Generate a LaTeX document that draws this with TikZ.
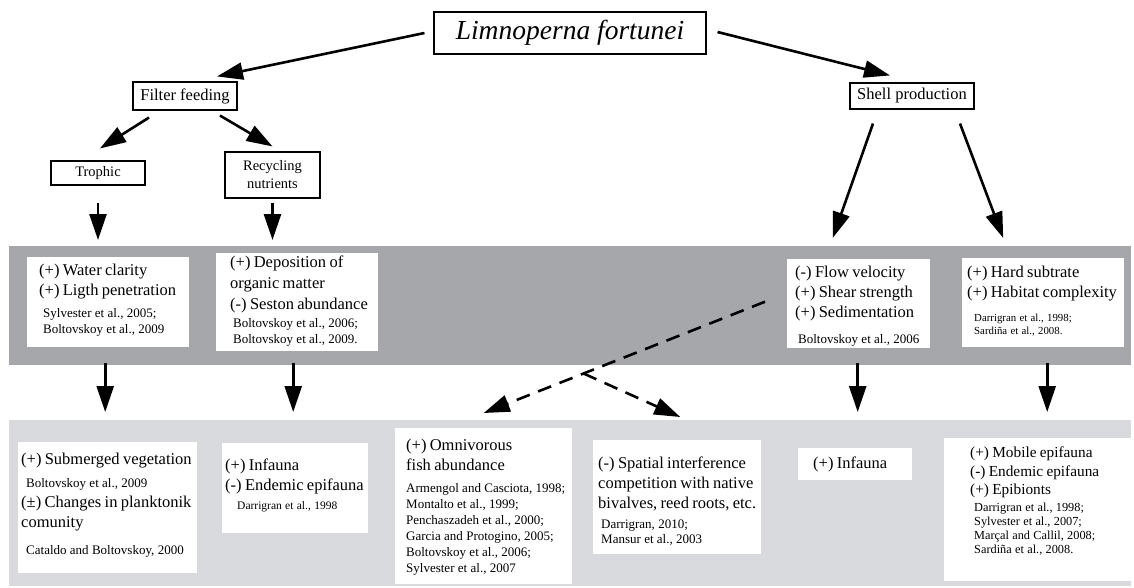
\documentclass[tikz,border=0pt]{standalone}
\usepackage{fontspec}
\setmainfont{Liberation Serif}
\usetikzlibrary{arrows.meta,calc,positioning}
\setlength{\parindent}{0pt}

\definecolor{bandDark}{RGB}{166,167,171}
\definecolor{bandLight}{RGB}{217,218,221}

% main lines and reference lines inside the white boxes
\newcommand{\mf}{\fontsize{16.5}{20}\selectfont\leftskip=0pt\relax}
\newcommand{\rf}[1][4pt]{\fontsize{13}{16}\selectfont\leftskip=#1\relax}

\tikzset{
  box/.style={draw, line width=1.1pt, inner sep=0pt, fill=white},
  wbox/.style={fill=white, inner sep=0pt, anchor=north west},
  txt/.style={inner sep=0pt, anchor=north west, align=left, text width=200pt},
  band/.style={inner sep=0pt, anchor=north west, minimum width=1122pt},
  arr/.style={line width=2.6pt, -{Triangle[length=26pt,width=17pt]}},
  darr/.style={arr, dash pattern=on 14pt off 9pt},
}

\begin{document}
\begin{tikzpicture}[x=1pt, y=-1pt]
    \useasboundingbox (0,0) rectangle (1134,587);
    % Grey bands
    \node[band, fill=bandDark, minimum height=119pt] (effects) at (9,246) {};
    \node[band, fill=bandLight, minimum height=166pt] (impacts) at (9,420) {};
    % Top of the tree
    \node[box, font=\fontsize{27.5}{30}\selectfont\itshape, minimum width=272pt, minimum height=42pt] (title) at (570,33) {Limnoperna fortunei};
    \node[box, font=\fontsize{16.5}{20}\selectfont, minimum width=104pt, minimum height=28pt] (filter) at (185,96) {Filter feeding};
    \node[box, font=\fontsize{16.5}{20}\selectfont, minimum width=124pt, minimum height=26pt] (shell) at (912,96) {Shell production};
    \node[box, font=\fontsize{14.5}{18}\selectfont, minimum width=94pt, minimum height=24pt] (trophic) at (98,173) {Trophic};
    \node[box, font=\fontsize{14.5}{18}\selectfont, align=center, minimum width=95pt, minimum height=46pt] (recycling) at (272.5,175) {Recycling\\nutrients};
    % Boxes on the dark band
    \node[wbox, minimum width=162pt, minimum height=90pt] (clarity) at (27,257) {};
    \node[txt] (claritytxt) at ($(clarity.north west)+(12,7)$) {\mf (+) Water clarity\par (+) Ligth penetration\par\vspace{6pt}\rf Sylvester et al., 2005;\par Boltovskoy et al., 2009\par};
    \node[wbox, minimum width=162pt, minimum height=98pt] (deposition) at (216,253) {};
    \node[txt] (depositiontxt) at ($(deposition.north west)+(14,3)$) {\mf\baselineskip=21pt (+) Deposition of\par organic matter\par (-) Seston abundance\par\vspace{2pt}\rf[3pt] Boltovskoy et al., 2006;\par Boltovskoy et al., 2009.\par};
    \node[wbox, minimum width=143pt, minimum height=89pt] (flow) at (787,259) {};
    \node[txt] (flowtxt) at ($(flow.north west)+(8,7)$) {\mf (-) Flow velocity\par (+) Shear strength\par (+) Sedimentation\par\vspace{10pt}\rf[3pt] Boltovskoy et al., 2006\par};
    \node[wbox, minimum width=162pt, minimum height=89pt] (hard) at (962,258) {};
    \node[txt] (hardtxt) at ($(hard.north west)+(5,8)$) {\mf (+) Hard subtrate\par (+) Habitat complexity\par\vspace{10pt}\fontsize{10.8}{13.5}\selectfont\leftskip=7pt Darrigran et al., 1998;\par Sardiña et al., 2008.\par};
    % Boxes on the light band
    \node[wbox, minimum width=179pt, minimum height=131pt] (vegetation) at (18,442) {};
    \node[txt] (vegetationtxt) at ($(vegetation.north west)+(3,11)$) {\mf (+) Submerged vegetation\par\vspace{7pt}\rf[5pt] Boltovskoy et al., 2009\par\mf (±) Changes in planktonik\par comunity\par\vspace{11pt}\rf[5pt] Cataldo and Boltovskoy, 2000\par};
    \node[wbox, minimum width=146pt, minimum height=90pt] (infauna) at (222,443) {};
    \node[txt] (infaunatxt) at ($(infauna.north west)+(3,16)$) {\mf (+) Infauna\par (-) Endemic epifauna\par\vspace{5pt}\fontsize{11.5}{14}\selectfont\leftskip=12pt Darrigran et al., 1998\par};
    \node[wbox, minimum width=177pt, minimum height=156pt] (fish) at (395,428) {};
    \node[txt] (fishtxt) at ($(fish.north west)+(11,11)$) {\mf (+) Omnivorous\par fish abundance\par\vspace{6pt}\rf[0pt] Armengol and Casciota, 1998;\par Montalto et al., 1999;\par Penchaszadeh et al., 2000;\par Garcia and Protogino, 2005;\par Boltovskoy et al., 2006;\par Sylvester et al., 2007\par};
    \node[wbox, minimum width=168pt, minimum height=114pt] (spatial) at (593,440) {};
    \node[txt] (spatialtxt) at ($(spatial.north west)+(5,17)$) {\mf (-) Spatial interference\par competition with native\par bivalves, reed roots, etc.\par\vspace{5pt}\fontsize{13}{15}\selectfont\leftskip=3pt Darrigran, 2010;\par Mansur et al., 2003\par};
    \node[wbox, minimum width=114pt, minimum height=32pt] (infaunaB) at (798,448) {};
    \node[txt] (infaunaBtxt) at ($(infaunaB.north west)+(15,9)$) {\mf (+) Infauna\par};
    \node[wbox, minimum width=189pt, minimum height=143pt] (epifauna) at (944,438) {};
    \node[txt] (epifaunatxt) at ($(epifauna.north west)+(26,9)$) {\fontsize{15.3}{18.5}\selectfont (+) Mobile epifauna\par (-) Endemic epifauna\par (+) Epibionts\par\vspace{3pt}\fontsize{12.3}{13.8}\selectfont\leftskip=4pt Darrigran et al., 1998;\par Sylvester et al., 2007;\par Marçal and Callil, 2008;\par Sardiña et al., 2008.\par};
    % Arrows of the tree
    \draw[arr] ($(title.west)+(-9,0)$) -- ($(filter.north)+(32,-5)$);
    \draw[arr] ($(title.east)+(11,-1)$) -- ($(shell.north)+(-22,-7)$);
    \draw[arr] ($(filter.south)+(-36,7)$) -- ($(trophic.north)+(2,-12)$);
    \draw[arr] ($(filter.south)+(35,5)$) -- ($(recycling.north)+(0,-5)$);
    \draw[arr] ($(trophic.south)+(0,17)$) -- ($(trophic.south |- effects.north)+(0,-6)$);
    \draw[arr] ($(recycling.south)+(0,4)$) -- ($(recycling.south |- effects.north)+(0,-6)$);
    \draw[arr] ($(shell.south)+(-39,14)$) -- ($(flow.north)+(-26,-21)$);
    \draw[arr] ($(shell.south)+(48,14)$) -- ($(hard.north)+(-40,-20)$);
    % Arrows between the bands
    \draw[arr] ($(clarity |- effects.south)+(-3,-2)$) -- ($(clarity |- impacts.north)+(-3,-8)$);
    \draw[arr] ($(deposition |- effects.south)+(-4,-2)$) -- ($(deposition |- impacts.north)+(-4,-8)$);
    \draw[arr] ($(flow |- effects.south)+(-1,-2)$) -- ($(flow |- impacts.north)+(-1,-8)$);
    \draw[arr] ($(hard |- effects.south)+(4,-2)$) -- ($(hard |- impacts.north)+(4,-8)$);
    % Dashed links
    \coordinate (dstart) at ($(flow.west)+(-22,-2)$);
    \coordinate (dtip) at ($(fish.north)+(0,-15)$);
    \coordinate (fork) at ($(dstart)!0.645!(dtip)$);
    \draw[darr] (dstart) -- (dtip);
    \draw[darr] (fork) -- ($(spatial.north)+(3,-23)$);
\end{tikzpicture}
\end{document}
